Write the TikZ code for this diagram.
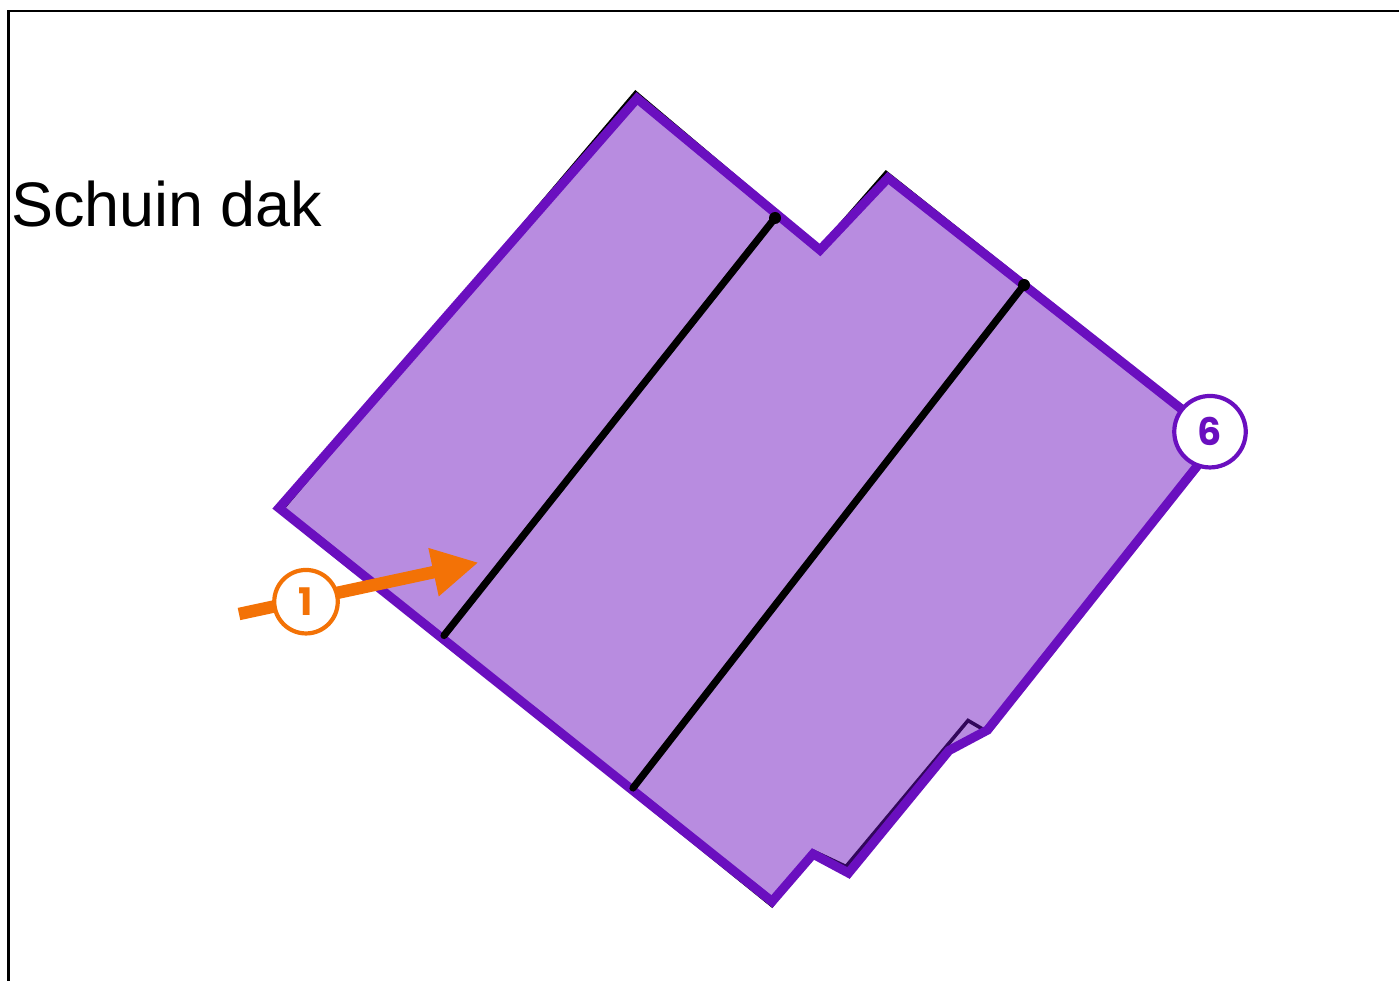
\documentclass[tikz,border=0pt]{standalone}
\usepackage{fontspec}
\setmainfont{Liberation Sans}
\newfontfamily\badgefont{Poppins}
\usetikzlibrary{arrows.meta}
\definecolor{roofpurple}{HTML}{6A0FBF}
\definecolor{arroworange}{HTML}{F37206}
\tikzset{
  frameline/.style={draw=black,line width=2.3pt},
  roofunder/.style={draw=black,line width=3.6pt,line join=miter},
  roofshape/.style={draw=roofpurple,line width=9.2pt,line join=miter,miter limit=10,fill=roofpurple,fill opacity=.48,draw opacity=1},
  ridge/.style={draw=black,line width=7.2pt,line cap=round},
  ridgeend/.style={circle,fill=black,inner sep=0pt,minimum size=12pt},
  windarrow/.style={draw=arroworange,line width=12.5pt,-{Triangle[length=46pt,width=46pt,fill=arroworange]}},
  badge/.style={circle,fill=white,line width=4.2pt,inner sep=0pt,font=\badgefont\bfseries\fontsize{38}{38}\selectfont},
  title/.style={font=\fontsize{62.9}{62.9}\selectfont,anchor=base west,inner sep=0pt}
}
\begin{document}
\begin{tikzpicture}[x=1pt,y=-1pt]
\useasboundingbox (0,0) rectangle (1399,981);
\draw[frameline] (1399,11) -- (8.5,11) -- (8.5,981);
\node[title] (label) at (11,226.5) {Schuin dak};
\draw[roofunder] (635.5,92.5) -- (820,248) -- (886,172.5) -- (1219,437) -- (986,731) -- (968,720.5) -- (846,866.5) -- (813,851) -- (772,905.5) -- (282,509.5) -- cycle;
\draw[roofshape] (637,98.5) -- (820,250) -- (888,178) -- (1219,438.6) -- (987.5,730) -- (949,750.5) -- (848.5,873) -- (813,854) -- (772,901.5) -- (279,508) -- cycle;
\coordinate (ridgeAtop) at (775,218);
\coordinate (ridgeAbot) at (444,635.5);
\coordinate (ridgeBtop) at (1024,285);
\coordinate (ridgeBbot) at (633,788);
\draw[ridge] (ridgeAtop) -- (ridgeAbot);
\draw[ridge] (ridgeBtop) -- (ridgeBbot);
\node[ridgeend] (dotA) at (ridgeAtop) {};
\node[ridgeend] (dotB) at (ridgeBtop) {};
\coordinate (arrowtail) at (239,614);
\coordinate (arrowtip) at (478.5,562.5);
\draw[windarrow] (arrowtail) -- (arrowtip);
\node[badge,draw=arroworange,text=arroworange,minimum size=63.5pt] (one) at (306,601.7) {1};
\node[badge,draw=roofpurple,text=roofpurple,minimum size=71.5pt] (six) at (1210,431.7) {6};
\end{tikzpicture}
\end{document}
